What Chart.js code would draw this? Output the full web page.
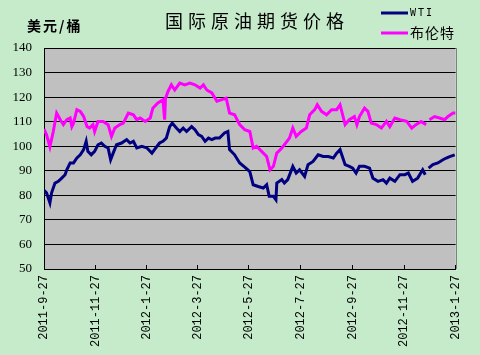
<!DOCTYPE html>
<html><head><meta charset="utf-8">
<script src="https://cdn.jsdelivr.net/npm/chart.js@4.4.0/dist/chart.umd.min.js"></script>
<style>html,body{margin:0;padding:0;background:#C6EBCB;overflow:hidden}</style>
</head><body>
<canvas id="c" width="480" height="355"></canvas>
<script>
const titleText = '国际原油期货价格';
const unitText = '美元/桶';
const seriesNames = ['WTI', '布伦特'];
const tickDays = [0, 61, 122, 182, 243, 304, 366, 427, 488];
const tickLabels = ['2011-9-27','2011-11-27','2012-1-27','2012-3-27','2012-5-27','2012-7-27','2012-9-27','2012-11-27','2013-1-27'];
const yMin = 50, yMax = 140, yStep = 10;

// days since 2011-9-27
const brentDays = [0,3,7,11,15,19,23,27,31,33,35,39,43,47,51,54,58,60,64,70,76,80,84,90,94,100,106,110,114,120,126,129,135,141,143,144,147,151,155,161,167,173,179,185,189,193,199,205,210,216,220,226,232,238,244,248,252,258,264,268,272,276,282,285,291,295,299,305,311,315,321,324,329,335,341,347,351,357,362,368,371,374,380,384,388,394,400,406,410,416,422,430,436,441,447,453,454,457,463,469,475,479,485,488];
const brentValues = [107,104.7,99.8,106,113.5,111,108.8,110.8,111.5,108,109.4,114.9,114.2,112.1,108,107.4,108.8,106,110.1,110.1,108.8,104,107.4,108.8,109.4,113.5,112.8,110.8,111.5,110.1,111.5,115.5,117.6,118.9,110.8,119.4,122.3,125,122.9,125.7,125,125.7,125,123.7,125,122.9,121.7,118.3,118.9,119.6,113.5,112.8,108.8,106.7,106,99.3,100,97.9,95.8,90.4,91.8,97.2,99.3,100.6,103.3,107.4,104,106,107.4,112.8,114.9,116.9,114.2,112.8,114.9,114.9,116.9,108.8,110.8,112.1,108.8,112.1,115.5,114.2,109.4,108.8,107.4,110.1,108,111.5,110.8,110.1,107.4,108.8,110.1,108.8,null,110.8,112.1,111.5,110.8,112.1,113.5,113.5];

const wtiDays = [0,3,7,9,13,17,21,25,27,31,35,39,43,47,50,52,56,60,64,68,72,76,79,82,86,92,98,102,106,110,116,122,128,131,137,141,145,149,152,157,161,165,169,175,179,183,187,191,195,199,203,208,214,218,220,226,232,238,244,248,254,260,264,267,272,275,276,282,285,289,295,299,303,309,313,319,325,331,337,343,347,351,357,362,366,370,374,380,386,390,396,402,406,410,416,422,428,432,437,443,449,452,454,456,461,467,473,477,481,487];
const wtiValues = [82,81,76.9,81,85,85.7,87,88.4,90.4,93.2,93.2,95.2,96.5,98.6,102,97.9,96.5,97.9,100.6,101.3,100,99.3,94.5,97.2,100.6,101.3,102.7,101.3,102,99.3,100,99.3,97.2,98.6,101.3,102,103.3,108,109.4,107.4,106,107.4,106,108,106.7,104.7,104,102,103.3,102.7,103.3,103.3,105.4,106,98.6,96.5,93.2,91.5,89.7,84.3,83.6,83,84.3,79.6,79.6,78.2,85,86.4,85,86.4,91.8,89.1,90.4,87.7,92.5,93.8,96.5,95.8,95.8,95.2,97.2,98.6,92.5,91.8,91.1,89.1,91.8,91.8,91.1,87,85.7,86.4,85,87,85.7,88.4,88.4,89.1,85.7,87,90.4,88.4,null,91.1,92.5,93.2,94.5,95.2,95.8,96.5];

const colors = { bg: '#C6EBCB', plot: '#C0C0C0', wti: '#000080', brent: '#FF00FF' };

function pts(days, vals) { return days.map((d, i) => ({ x: d, y: vals[i] })); }

const decor = {
  id: 'decor',
  beforeDraw(chart) {
    const { ctx, chartArea: a } = chart;
    ctx.save();
    ctx.fillStyle = colors.bg;
    ctx.fillRect(0, 0, chart.width, chart.height);
    ctx.fillStyle = colors.plot;
    ctx.fillRect(a.left, a.top, a.right - a.left, a.bottom - a.top);
    ctx.restore();
  },
  afterDraw(chart) {
    const { ctx, chartArea: a } = chart;
    ctx.save();
    // right border
    ctx.strokeStyle = '#808080';
    ctx.lineWidth = 1;
    ctx.beginPath();
    ctx.moveTo(Math.round(a.right) + 0.5, a.top);
    ctx.lineTo(Math.round(a.right) + 0.5, a.bottom);
    ctx.stroke();
    // title
    ctx.fillStyle = '#000';
    ctx.textBaseline = 'middle';
    ctx.font = '18px "Noto Sans CJK SC"';
    ctx.letterSpacing = '5px';
    ctx.textAlign = 'left';
    ctx.fillText(titleText, 165, 21);
    // unit
    ctx.font = 'bold 14px "Noto Sans CJK SC"';
    ctx.letterSpacing = '2px';
    ctx.fillText(unitText, 27, 26);
    // legend
    const ds = chart.data.datasets;
    const rows = [13, 33];
    ds.forEach((d, i) => {
      ctx.strokeStyle = d.borderColor;
      ctx.lineWidth = 3;
      ctx.beginPath();
      ctx.moveTo(381, rows[i]);
      ctx.lineTo(408, rows[i]);
      ctx.stroke();
      ctx.fillStyle = '#000';
      if (i === 0) { ctx.font = '10px "DejaVu Sans Mono"'; ctx.letterSpacing = '2px'; }
      else { ctx.font = '14px "Noto Sans CJK SC"'; ctx.letterSpacing = '1px'; }
      ctx.fillText(d.label, 410, rows[i]);
    });
    ctx.restore();
  }
};

new Chart(document.getElementById('c'), {
  type: 'line',
  data: {
    datasets: [
      { label: seriesNames[0], data: pts(wtiDays, wtiValues), borderColor: colors.wti, borderWidth: 3, pointRadius: 0, spanGaps: false, tension: 0 },
      { label: seriesNames[1], data: pts(brentDays, brentValues), borderColor: colors.brent, borderWidth: 3, pointRadius: 0, spanGaps: false, tension: 0 }
    ]
  },
  options: {
    responsive: false,
    animation: false,
    devicePixelRatio: 1,
    layout: { padding: { left: 0, right: 24, top: 48, bottom: 0 } },
    plugins: { legend: { display: false }, title: { display: false }, tooltip: { enabled: false } },
    scales: {
      x: {
        type: 'linear',
        min: tickDays[0], max: tickDays[tickDays.length - 1],
        afterBuildTicks: s => { s.ticks = tickDays.map(v => ({ value: v })); },
        afterFit: s => { s.height = 86; },
        grid: { drawOnChartArea: false, drawTicks: true, tickLength: -4, color: '#000' },
        border: { color: '#000', width: 1 },
        ticks: {
          autoSkip: false, maxRotation: 90, minRotation: 90, padding: 10,
          color: '#000', font: { family: '"Liberation Mono"', size: 12 },
          callback: v => tickLabels[tickDays.indexOf(v)]
        }
      },
      y: {
        min: yMin, max: yMax,
        afterFit: s => { s.width = 44; },
        grid: { color: '#000', drawTicks: false, lineWidth: 1 },
        border: { color: '#000', width: 1 },
        ticks: { stepSize: yStep, padding: 12, color: '#000', font: { family: '"Liberation Serif"', size: 13 } }
      }
    }
  },
  plugins: [decor]
});
</script>
</body></html>
